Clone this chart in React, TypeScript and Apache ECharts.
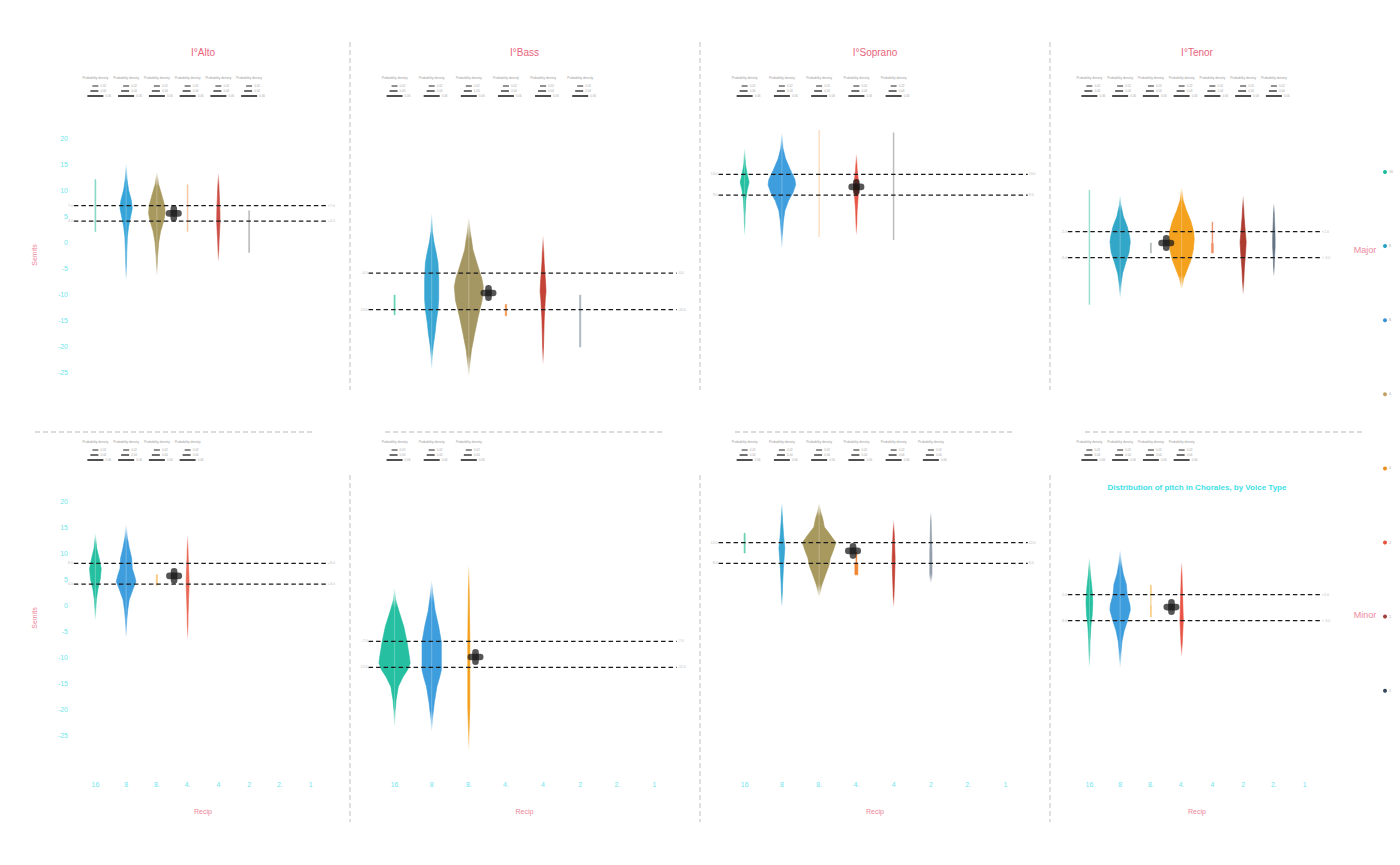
import React, { useEffect, useRef } from "react";
import * as echarts from "echarts";

const FONT = "'Liberation Sans', Arial, sans-serif";

// ---------- data ----------
const recipLabels = ["16", "8", "8.", "4.", "4", "2", "2.", "1"];
const voices = ["Alto", "Bass", "Soprano", "Tenor"];
const modes = ["Major", "Minor"];
const densityLabels = ["0.02", "0.04", "0.06"];
const legendColors = ["#1abc9c", "#27a2c4", "#3b93d4", "#c2a063", "#f08c1e", "#e5533d", "#a2403e", "#34495e"];

type Prof = [number, number][];

// Alto – Major
const altoMajorProfiles: Prof[] = [
  [[12, 0.015], [2, 0.015]],
  [[15, 0], [12, 0.03], [10, 0.08], [8, 0.17], [6.5, 0.2], [5, 0.15], [3, 0.08], [1, 0.04], [-2, 0.02], [-7.3, 0]],
  [[13.5, 0], [11, 0.06], [9, 0.16], [7, 0.25], [5.5, 0.27], [4, 0.22], [2, 0.12], [0, 0.06], [-3, 0.02], [-6.5, 0]],
  [[11, 0.012], [2, 0.012]],
  [[13.3, 0], [9, 0.03], [6, 0.05], [4, 0.055], [2, 0.04], [0, 0.02], [-3.8, 0]],
  [[6, 0.015], [-2, 0.015]],
];
const altoMajorColors = ["#7fd6c4", "#2a9fd6", "#a39355", "#f7bf9a", "#c9463d", "#b4b4b4"];
const altoMajorMean = [2.55, 5.5];
const altoMajorRefs = [7, 4];

// Bass – Major
const bassMajorProfiles: Prof[] = [
  [[-10.2, 0.015], [-14, 0.015]],
  [[5.6, 0], [2, 0.02], [0, 0.06], [-2, 0.12], [-4, 0.17], [-7, 0.19], [-11, 0.19], [-13, 0.17], [-15.5, 0.12], [-17.5, 0.09], [-20, 0.04], [-22, 0.015], [-24.6, 0]],
  [[4.8, 0], [2, 0.04], [-1.5, 0.11], [-4.8, 0.25], [-7, 0.35], [-8.6, 0.39], [-11.2, 0.36], [-14.4, 0.25], [-17.5, 0.16], [-20.8, 0.07], [-24, 0.02], [-26, 0]],
  [[-12, 0.018], [-14.2, 0.018]],
  [[1.3, 0], [-4, 0.03], [-8, 0.07], [-9.5, 0.08], [-11, 0.06], [-15, 0.03], [-23.6, 0]],
  [[-10.2, 0.018], [-20.2, 0.018]],
];
const bassMajorColors = ["#5fd3b6", "#2ea1d0", "#a0915a", "#f08a3c", "#c0392b", "#aab4be"];
const bassMajorMean = [2.53, -9.8];
const bassMajorRefs = [-6, -13];

// Soprano – Major
const sopranoMajorProfiles: Prof[] = [
  [[18, 0], [15, 0.02], [13, 0.07], [11.5, 0.12], [10, 0.07], [8, 0.03], [5, 0.01], [1.3, 0]],
  [[21, 0], [18, 0.03], [16, 0.1], [14, 0.22], [12, 0.35], [11, 0.37], [9.5, 0.3], [8, 0.18], [6, 0.08], [4, 0.04], [1, 0.01], [-1.2, 0]],
  [[21.5, 0.01], [1, 0.01]],
  [[17, 0], [14, 0.02], [12, 0.05], [10.5, 0.07], [9, 0.05], [6, 0.02], [1.3, 0]],
  [[21, 0.01], [0.4, 0.01]],
];
const sopranoMajorColors = ["#1abc9c", "#3498db", "#f9dcc0", "#e74c3c", "#b4b4b4"];
const sopranoMajorMean = [3.0, 10.6];
const sopranoMajorRefs = [13, 9];

// Tenor – Major
const tenorMajorProfiles: Prof[] = [
  [[10, 0.012], [-12, 0.012]],
  [[9, 0], [7, 0.03], [5, 0.1], [3, 0.23], [1, 0.31], [0, 0.33], [-2, 0.29], [-4, 0.18], [-6, 0.08], [-8, 0.03], [-10.8, 0]],
  [[-0.2, 0.015], [-2.1, 0.015]],
  [[10.6, 0], [8, 0.05], [6, 0.16], [4, 0.3], [2, 0.39], [0.5, 0.41], [-1.5, 0.38], [-3.5, 0.3], [-5.5, 0.17], [-7, 0.07], [-9.2, 0]],
  [[3.8, 0.012], [-0.2, 0.012], [-0.3, 0.03], [-2.1, 0.03]],
  [[9, 0], [5, 0.03], [2, 0.07], [0, 0.1], [-2, 0.08], [-5, 0.04], [-10.2, 0]],
  [[7.5, 0], [4, 0.02], [1, 0.04], [-1, 0.04], [-3, 0.02], [-6.7, 0]],
];
const tenorMajorColors = ["#8fdccd", "#27a2c4", "#a8b0b0", "#f39c12", "#ee8a62", "#a93226", "#5d6d7e"];
const tenorMajorMean = [2.5, -0.2];
const tenorMajorRefs = [2, -3];

// Alto – Minor
const altoMinorProfiles: Prof[] = [
  [[13.8, 0], [11, 0.04], [9, 0.12], [7, 0.19], [5, 0.16], [3, 0.08], [1, 0.03], [-1, 0.01], [-2.9, 0]],
  [[15.4, 0], [13, 0.04], [11, 0.1], [9, 0.18], [7, 0.2], [5.5, 0.28], [4.5, 0.32], [3, 0.22], [1, 0.1], [-1, 0.05], [-3, 0.02], [-6.3, 0]],
  [[5.8, 0.02], [3.8, 0.02]],
  [[13.5, 0], [9, 0.02], [6, 0.04], [4, 0.05], [1, 0.03], [-2, 0.015], [-6.7, 0]],
];
const altoMinorColors = ["#1abc9c", "#3498db", "#f8c471", "#e8604c"];
const altoMinorMean = [2.56, 5.6];
const altoMinorRefs = [8, 4];

// Bass – Minor
const bassMinorProfiles: Prof[] = [
  [[3.3, 0], [1, 0.03], [-1, 0.11], [-4.2, 0.25], [-7.3, 0.34], [-10, 0.4], [-11.2, 0.42], [-12.5, 0.35], [-13.8, 0.23], [-15.7, 0.1], [-18.3, 0.04], [-20.5, 0.015], [-23.4, 0]],
  [[4.8, 0], [2.3, 0.03], [-1, 0.09], [-4.2, 0.19], [-7.1, 0.26], [-12.5, 0.26], [-14, 0.21], [-15.7, 0.14], [-18.8, 0.07], [-22, 0.02], [-24.4, 0]],
  [[7.7, 0], [2, 0.012], [-6.7, 0.028], [-19.6, 0.028], [-23, 0.012], [-28, 0]],
];
const bassMinorColors = ["#1abc9c", "#3498db", "#f39c12"];
const bassMinorMean = [2.18, -10];
const bassMinorRefs = [-7, -12];

// Soprano – Minor
const sopranoMinorProfiles: Prof[] = [
  [[13.8, 0.015], [10, 0.015]],
  [[19.6, 0], [16, 0.02], [13, 0.05], [11, 0.08], [9, 0.06], [7, 0.04], [4, 0.02], [-0.4, 0]],
  [[19.6, 0], [18, 0.04], [16.5, 0.1], [15, 0.14], [13.5, 0.3], [12, 0.45], [10.5, 0.38], [9, 0.3], [7.5, 0.26], [6, 0.18], [4, 0.08], [2.5, 0.03], [1.5, 0]],
  [[10.2, 0.012], [8.2, 0.012], [8.0, 0.04], [5.8, 0.04]],
  [[16.3, 0], [12, 0.025], [9, 0.04], [6, 0.03], [3, 0.015], [-0.4, 0]],
  [[17.9, 0], [14, 0.015], [10, 0.03], [5.5, 0.03], [4.2, 0]],
];
const sopranoMinorColors = ["#5fcfae", "#2ea1d0", "#a39355", "#ef7f2a", "#c0392b", "#8d99a6"];
const sopranoMinorMean = [2.91, 10.4];
const sopranoMinorRefs = [12, 8];

// Tenor – Minor
const tenorMinorProfiles: Prof[] = [
  [[9.2, 0], [6, 0.03], [4, 0.07], [2, 0.1], [0.4, 0.11], [-2, 0.09], [-4, 0.05], [-7, 0.02], [-12, 0]],
  [[10.6, 0], [8, 0.04], [6, 0.1], [4, 0.2], [2, 0.23], [0, 0.32], [-1, 0.33], [-3, 0.24], [-5, 0.13], [-7, 0.06], [-9, 0.03], [-12.1, 0]],
  [[3.8, 0.015], [1.9, 0.015], [1.9, 0], [-0.2, 0], [-0.2, 0.015], [-2.3, 0.015]],
  [[8.3, 0], [4, 0.02], [0, 0.04], [-3, 0.055], [-6, 0.03], [-10, 0]],
];
const tenorMinorColors = ["#1abc9c", "#3498db", "#f8c471", "#e74c3c"];
const tenorMinorMean = [2.67, -0.4];
const tenorMinorRefs = [2, -3];

// ---------- layout ----------
const colLeft = [80, 376, 726, 1074];
const colWidth = [246, 297, 298, 246];
const rowTop = [112, 475];
const rowHeight = 286;

const panels = [
  { profiles: altoMajorProfiles, colors: altoMajorColors, mean: altoMajorMean, refs: altoMajorRefs },
  { profiles: bassMajorProfiles, colors: bassMajorColors, mean: bassMajorMean, refs: bassMajorRefs },
  { profiles: sopranoMajorProfiles, colors: sopranoMajorColors, mean: sopranoMajorMean, refs: sopranoMajorRefs },
  { profiles: tenorMajorProfiles, colors: tenorMajorColors, mean: tenorMajorMean, refs: tenorMajorRefs },
  { profiles: altoMinorProfiles, colors: altoMinorColors, mean: altoMinorMean, refs: altoMinorRefs },
  { profiles: bassMinorProfiles, colors: bassMinorColors, mean: bassMinorMean, refs: bassMinorRefs },
  { profiles: sopranoMinorProfiles, colors: sopranoMinorColors, mean: sopranoMinorMean, refs: sopranoMinorRefs },
  { profiles: tenorMinorProfiles, colors: tenorMinorColors, mean: tenorMinorMean, refs: tenorMinorRefs },
];

function transparent(hex: string) {
  const h = hex.replace("#", "");
  const r = parseInt(h.slice(0, 2), 16);
  const g = parseInt(h.slice(2, 4), 16);
  const b = parseInt(h.slice(4, 6), 16);
  return `rgba(${r},${g},${b},0)`;
}

function makeFill(color: string, tapered: boolean) {
  if (!tapered) return color;
  return new echarts.graphic.LinearGradient(0, 0, 0, 1, [
    { offset: 0, color: transparent(color) },
    { offset: 0.14, color },
    { offset: 0.86, color },
    { offset: 1, color: transparent(color) },
  ]);
}

function violinRender(profiles: Prof[], colors: string[]) {
  return (params: any, api: any) => {
    const i = params.dataIndex;
    const prof = profiles[i];
    const color = colors[i];
    const right = prof.map(([y, w]) => api.coord([i + w, y]));
    const left = prof
      .slice()
      .reverse()
      .map(([y, w]) => api.coord([i - w, y]));
    const tapered = prof[0][1] === 0 && prof[prof.length - 1][1] === 0;
    const children: any[] = [
      {
        type: "polygon",
        shape: { points: right.concat(left) },
        style: { fill: makeFill(color, tapered), stroke: makeFill(color, tapered), lineWidth: 0.6, opacity: 0.95 },
      },
    ];
    const maxW = Math.max(...prof.map((p) => p[1]));
    if (maxW > 0.1) {
      const t = api.coord([i, prof[0][0]]);
      const b = api.coord([i, prof[prof.length - 1][0]]);
      children.push({
        type: "line",
        shape: { x1: t[0], y1: t[1], x2: b[0], y2: b[1] },
        style: { stroke: "rgba(255,255,255,0.35)", lineWidth: 0.8 },
      });
    }
    return { type: "group", children };
  };
}

function refRender(params: any, api: any) {
  const v = api.value(1);
  const a = api.coord([-0.7, v]);
  const b = api.coord([7.6, v]);
  return {
    type: "group",
    children: [
      {
        type: "line",
        shape: { x1: a[0], y1: a[1], x2: b[0], y2: b[1] },
        style: { stroke: "#1a1a1a", lineWidth: 1.3, lineDash: [4.5, 3] },
      },
      {
        type: "text",
        x: a[0] - 1,
        y: a[1],
        style: { text: v.toFixed(1), fontSize: 3.5, fill: "#bbbbbb", align: "right", verticalAlign: "middle", fontFamily: FONT },
      },
      {
        type: "text",
        x: b[0] + 1,
        y: b[1],
        style: { text: v.toFixed(1), fontSize: 3.5, fill: "#bbbbbb", align: "left", verticalAlign: "middle", fontFamily: FONT },
      },
    ],
  };
}

function meanRender(params: any, api: any) {
  const p = api.coord([api.value(0), api.value(1)]);
  const fill = "rgba(20,20,20,0.72)";
  return {
    type: "group",
    children: [
      { type: "rect", shape: { x: p[0] - 8, y: p[1] - 3.3, width: 16, height: 6.6, r: 3.3 }, style: { fill } },
      { type: "rect", shape: { x: p[0] - 3.3, y: p[1] - 8, width: 6.6, height: 16, r: 3.3 }, style: { fill } },
    ],
  };
}

function buildOption() {
  const grid: any[] = [];
  const xAxis: any[] = [];
  const yAxis: any[] = [];
  const series: any[] = [];
  const graphic: any[] = [];

  panels.forEach((p, k) => {
    const r = Math.floor(k / 4);
    const c = k % 4;
    grid.push({ left: colLeft[c], top: rowTop[r], width: colWidth[c], height: rowHeight, containLabel: false });
    xAxis.push({ type: "value", gridIndex: k, min: -0.5, max: 7.5, show: false, position: "top" });
    xAxis.push({
      type: "category",
      gridIndex: k,
      position: "bottom",
      data: recipLabels,
      show: r === 1,
      axisLine: { show: false },
      axisTick: { show: false },
      splitLine: { show: false },
      axisLabel: { color: "#72e6ec", fontSize: 7, margin: 20, fontFamily: FONT },
      name: "Recip",
      nameLocation: "middle",
      nameGap: 47,
      nameTextStyle: { color: "#ee8498", fontSize: 7, fontFamily: FONT },
    });
    yAxis.push({
      type: "value",
      gridIndex: k,
      min: -30,
      max: 25,
      interval: 5,
      show: c === 0,
      axisLine: { show: false },
      axisTick: { show: false },
      splitLine: { show: false },
      axisLabel: {
        color: "#72e6ec",
        fontSize: 7,
        margin: 12,
        fontFamily: FONT,
        formatter: (v: number) => (v === -30 || v === 25 ? "" : String(v)),
      },
      name: "Semits",
      nameLocation: "middle",
      nameGap: 42,
      nameTextStyle: { color: "#ee8498", fontSize: 7, fontFamily: FONT },
    });

    series.push({
      type: "custom",
      xAxisIndex: 2 * k,
      yAxisIndex: k,
      renderItem: violinRender(p.profiles, p.colors),
      data: p.profiles.map((pr, i) => [i, pr[0][0]]),
      encode: { x: 0, y: 1 },
      z: 2,
      silent: true,
    });
    series.push({
      type: "custom",
      xAxisIndex: 2 * k,
      yAxisIndex: k,
      renderItem: refRender,
      data: p.refs.map((v) => [0, v]),
      encode: { x: 0, y: 1 },
      z: 3,
      silent: true,
    });
    series.push({
      type: "custom",
      xAxisIndex: 2 * k,
      yAxisIndex: k,
      renderItem: meanRender,
      data: [p.mean],
      encode: { x: 0, y: 1 },
      z: 4,
      silent: true,
    });

    // probability-density size legends
    const spacing = colWidth[c] / 8;
    const ry = r === 0 ? 78 : 442;
    p.profiles.forEach((_, i) => {
      const cx = colLeft[c] + (i + 0.5) * spacing;
      graphic.push({
        type: "text",
        x: cx,
        y: ry,
        style: { text: "Probability density", fontSize: 3.2, fill: "#999999", align: "center", verticalAlign: "middle", fontFamily: FONT },
      });
      const rows = [
        { x1: cx - 3, x2: cx + 3, dy: 8, lw: 1 },
        { x1: cx - 5, x2: cx + 3, dy: 13, lw: 1.3 },
        { x1: cx - 8, x2: cx + 8, dy: 18, lw: 1.6 },
      ];
      rows.forEach((row, j) => {
        graphic.push({
          type: "line",
          shape: { x1: row.x1, y1: ry + row.dy, x2: row.x2, y2: ry + row.dy },
          style: { stroke: "#222222", lineWidth: row.lw },
        });
        graphic.push({
          type: "text",
          x: row.x2 + 2,
          y: ry + row.dy,
          style: { text: densityLabels[j], fontSize: 3, fill: "#aaaaaa", align: "left", verticalAlign: "middle", fontFamily: FONT },
        });
      });
    });
  });

  // titles
  voices.forEach((v, c) => {
    graphic.push({
      type: "text",
      x: colLeft[c] + colWidth[c] / 2,
      y: 52,
      style: { text: "I°" + v, fontSize: 10, fill: "#e8647c", align: "center", verticalAlign: "middle", fontFamily: FONT },
    });
  });
  graphic.push({
    type: "text",
    x: colLeft[3] + colWidth[3] / 2,
    y: 487,
    style: {
      text: "Distribution of pitch in Chorales, by Voice Type",
      fontSize: 8,
      fontWeight: "bold",
      fill: "#3fe0e6",
      align: "center",
      verticalAlign: "middle",
      fontFamily: FONT,
    },
  });

  // dividers
  const dash = { stroke: "#cfcfcf", lineWidth: 1.3, lineDash: [5, 3] };
  [350, 700, 1050].forEach((x) => {
    graphic.push({ type: "line", shape: { x1: x, y1: 42, x2: x, y2: 390 }, style: dash });
    graphic.push({ type: "line", shape: { x1: x, y1: 475, x2: x, y2: 822 }, style: dash });
  });
  [35, 385, 735, 1085].forEach((x) => {
    graphic.push({ type: "line", shape: { x1: x, y1: 432, x2: x + 278, y2: 432 }, style: dash });
  });

  // row strip labels
  modes.forEach((m, r) => {
    graphic.push({
      type: "text",
      x: 1365,
      y: r === 0 ? 250 : 615,
      style: { text: m, fontSize: 9, fill: "#ee8aa0", align: "center", verticalAlign: "middle", fontFamily: FONT },
    });
  });

  // colour legend
  recipLabels.forEach((lab, i) => {
    const y = 172 + i * 74.1;
    graphic.push({ type: "circle", shape: { cx: 1385, cy: y, r: 2 }, style: { fill: legendColors[i] } });
    graphic.push({
      type: "text",
      x: 1389,
      y,
      style: { text: lab, fontSize: 3.5, fill: "#aaaaaa", align: "left", verticalAlign: "middle", fontFamily: FONT },
    });
  });

  return {
    animation: false,
    backgroundColor: "#ffffff",
    textStyle: { fontFamily: FONT },
    grid,
    xAxis,
    yAxis,
    series,
    graphic,
  };
}

export default function App() {
  const ref = useRef<HTMLDivElement>(null);
  useEffect(() => {
    const chart = echarts.init(ref.current!, null, { renderer: "svg" });
    chart.setOption(buildOption() as any);
    return () => chart.dispose();
  }, []);
  return (
    <div
      ref={ref}
      style={{ position: "fixed", left: 0, top: 0, width: 1400, height: 865, background: "#fff" }}
    />
  );
}
